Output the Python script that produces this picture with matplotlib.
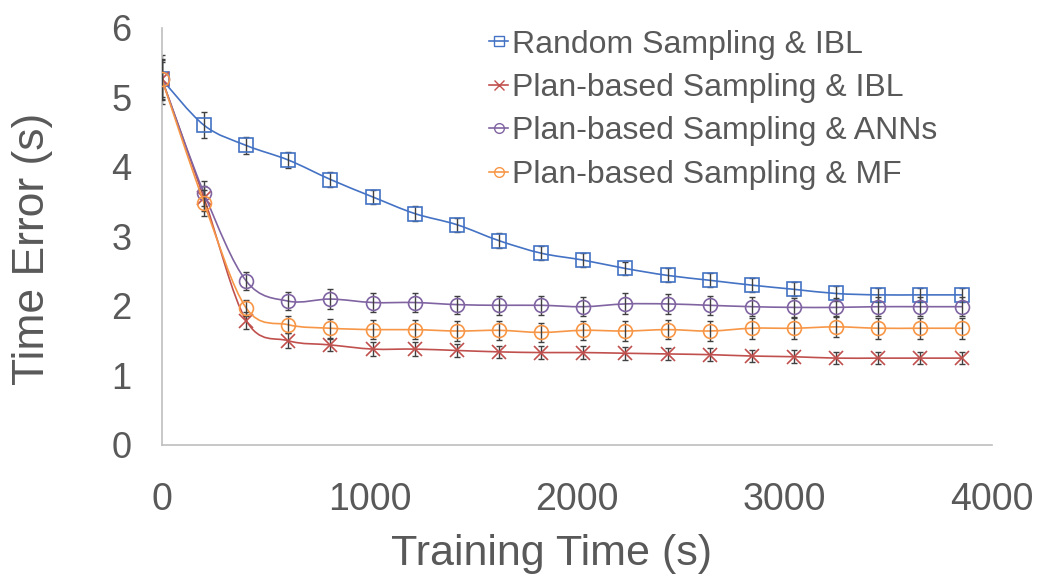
import numpy as np
import matplotlib
matplotlib.use('Agg')
import matplotlib.pyplot as plt
from matplotlib.path import Path
from matplotlib.patches import PathPatch
from matplotlib.lines import Line2D

plt.rcParams['font.family'] = ['Liberation Sans', 'DejaVu Sans']

# data
train_time = [0, 203, 406, 609, 812, 1015, 1218, 1421, 1624, 1827,
              2030, 2233, 2436, 2639, 2842, 3045, 3248, 3451, 3654, 3857]

random_ibl = [5.26, 4.60, 4.31, 4.10, 3.82, 3.57, 3.33, 3.17, 2.94, 2.76,
              2.66, 2.54, 2.44, 2.37, 2.30, 2.24, 2.18, 2.16, 2.16, 2.16]
random_ibl_err = [0.35, 0.19, 0.12, 0.11, 0.11, 0.10, 0.11, 0.10, 0.11, 0.10,
                  0.10, 0.10, 0.10, 0.10, 0.10, 0.10, 0.11, 0.10, 0.10, 0.10]

plan_ibl = [5.26, 3.55, 1.79, 1.50, 1.44, 1.38, 1.38, 1.36, 1.34, 1.33,
            1.33, 1.32, 1.31, 1.30, 1.28, 1.27, 1.25, 1.25, 1.25, 1.25]
plan_ibl_err = [0.25, 0.18, 0.12, 0.11, 0.09, 0.10, 0.10, 0.09, 0.09, 0.09,
                0.09, 0.09, 0.09, 0.09, 0.09, 0.09, 0.09, 0.09, 0.09, 0.09]

plan_ann = [5.26, 3.62, 2.36, 2.07, 2.10, 2.05, 2.05, 2.02, 2.01, 2.01,
            1.99, 2.03, 2.03, 2.01, 1.99, 1.98, 1.98, 1.99, 1.99, 1.99]
plan_ann_err = [0.30, 0.18, 0.13, 0.13, 0.14, 0.14, 0.14, 0.13, 0.14, 0.14,
                0.14, 0.15, 0.14, 0.14, 0.14, 0.14, 0.14, 0.14, 0.14, 0.14]

plan_mf = [5.26, 3.48, 1.97, 1.73, 1.68, 1.66, 1.66, 1.64, 1.65, 1.62,
           1.65, 1.64, 1.66, 1.64, 1.68, 1.68, 1.70, 1.68, 1.68, 1.68]
plan_mf_err = [0.28, 0.19, 0.12, 0.12, 0.14, 0.14, 0.14, 0.14, 0.14, 0.14,
               0.14, 0.14, 0.14, 0.14, 0.15, 0.15, 0.15, 0.15, 0.15, 0.15]

labels = ['Random Sampling & IBL', 'Plan-based Sampling & IBL',
          'Plan-based Sampling & ANNs', 'Plan-based Sampling & MF']
colors = ['#4472C4', '#C0504D', '#8064A2', '#F79646']
markers = ['s', 'x', 'o', 'o']


def smooth_path(xs, ys):
    # excel-like smoothed line: catmull-rom turned into bezier segments
    pts = np.column_stack([xs, ys]).astype(float)
    n = len(pts)
    verts = [pts[0]]
    codes = [Path.MOVETO]
    for i in range(n - 1):
        p0 = pts[max(i - 1, 0)]
        p1 = pts[i]
        p2 = pts[i + 1]
        p3 = pts[min(i + 2, n - 1)]
        verts += [p1 + (p2 - p0) / 6, p2 - (p3 - p1) / 6, p2]
        codes += [Path.CURVE4] * 3
    return Path(verts, codes)


fig = plt.figure(figsize=(10.41, 5.82), dpi=100)
ax = fig.add_axes([0.1556, 0.2354, 0.7974, 0.7165])

series = [(random_ibl, random_ibl_err), (plan_ibl, plan_ibl_err),
          (plan_ann, plan_ann_err), (plan_mf, plan_mf_err)]

handles = []
for k, (y, e) in enumerate(series):
    c = colors[k]
    ax.add_patch(PathPatch(smooth_path(train_time, y), facecolor='none',
                           edgecolor=c, lw=1.2, zorder=2 + k))
    ax.errorbar(train_time, y, yerr=e, fmt='none', ecolor='#404040',
                elinewidth=1.0, capsize=2.5, capthick=1.0, zorder=2 + k)
    ax.plot(train_time, y, linestyle='none', marker=markers[k], ms=10,
            mfc='none', mec=c, mew=1.2, zorder=2 + k)
    handles.append(Line2D([], [], color=c, lw=1.2, marker=markers[k], ms=7,
                          mfc='none', mec=c, mew=1.0))

ax.set_xlim(0, 4000)
ax.set_ylim(0, 6)
ax.set_xticks([0, 1000, 2000, 3000, 4000])
ax.set_yticks([0, 1, 2, 3, 4, 5, 6])

for s in ['top', 'right']:
    ax.spines[s].set_visible(False)
for s in ['left', 'bottom']:
    ax.spines[s].set_color('#BFBFBF')
    ax.spines[s].set_linewidth(1.2)

ax.tick_params(axis='both', length=0, colors='#595959')
ax.tick_params(axis='x', labelsize=27, pad=27)
ax.tick_params(axis='y', labelsize=26, pad=22)

ax.set_xlabel('Training Time (s)', fontsize=31, color='#595959')
ax.set_ylabel('Time Error (s)', fontsize=32, color='#595959')
ax.xaxis.set_label_coords(0.469, -0.213)
ax.yaxis.set_label_coords(-0.131, 0.47)

ax.legend(handles, labels, loc='upper right', bbox_to_anchor=(0.968, 1.065),
          frameon=False, fontsize=23, handlelength=0.6, handletextpad=0.1,
          labelspacing=0.42, labelcolor='#595959')

plt.savefig('out.png', dpi=100)
